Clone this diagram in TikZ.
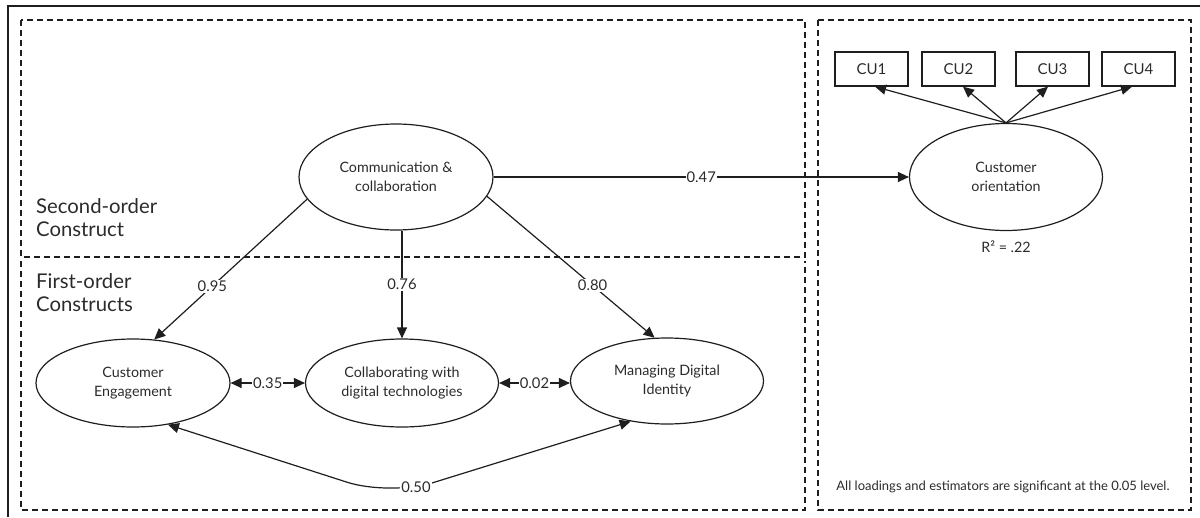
\documentclass[tikz,border=0pt]{standalone}
\usepackage{fontspec}
\setmainfont{Lato}
\usetikzlibrary{arrows.meta,shapes.geometric}
\definecolor{ln}{HTML}{1E1E1E}
\definecolor{tx}{HTML}{2B2B2B}
\begin{document}
\begin{tikzpicture}[x=1pt,y=-1pt,
  font=\fontsize{14.3}{18.5}\selectfont, text=tx,
  latent/.style={draw=ln, line width=1.2pt, ellipse, align=center, inner sep=0pt,
    minimum width=194pt},
  obs/.style={draw=ln, line width=1.3pt, rectangle, minimum width=73pt, minimum height=34pt, inner sep=0pt, font=\fontsize{15}{18}\selectfont},
  dbox/.style={draw=ln, line width=1.3pt, dash pattern=on 6pt off 4pt},
  path/.style={draw=ln, line width=1.2pt, -{Triangle[length=11pt,width=10pt]}},
  dpath/.style={draw=ln, line width=1.2pt, {Triangle[length=11pt,width=10pt]}-{Triangle[length=11pt,width=10pt]}},
  lab/.style={fill=white, inner sep=1pt, text=tx, font=\fontsize{14.8}{18}\selectfont},
  head/.style={align=left, anchor=west, font=\fontsize{20.3}{23}\selectfont, inner sep=0pt}
]
\useasboundingbox (0,0) rectangle (1200,517);
% outer frame
\draw[ln, line width=2pt] (8,517) -- (8,6) -- (1200,6);
% dashed regions
\draw[dbox] (21,20) rectangle (805,257);
\draw[dbox] (21,261) -- (21,510) -- (805,510) -- (805,261);
\draw[dbox] (818,20) rectangle (1191,510);
% headings
\node[head] (h2) at (36,218) {Second-order\\Construct};
\node[head] (h1) at (36,293) {First-order\\Constructs};
% latent variables
\node[latent, minimum height=106pt] (comm) at (396,177) {Communication \&\\collaboration};
\node[latent, minimum height=107pt, minimum width=193pt] (co) at (1006,177) {Customer\\orientation};
\node[latent, minimum height=88pt] (ce) at (133,383) {Customer\\Engagement};
\node[latent, minimum height=88pt, minimum width=193pt] (collab) at (402,383) {Collaborating with\\digital technologies};
\node[latent, minimum height=86pt, minimum width=193pt] (mdi) at (667,381) {Managing Digital\\Identity};
% indicators
\node[obs] (cu1) at (871.5,69) {CU1};
\node[obs] (cu2) at (958.5,69) {CU2};
\node[obs] (cu3) at (1052.5,69) {CU3};
\node[obs] (cu4) at (1138.5,69) {CU4};
% notes
\node[inner sep=0pt] (r2) at (1006,247) {R² = .22};
\node[inner sep=0pt, font=\fontsize{13}{14}\selectfont] (note) at (1003,487) {All loadings and estimators are significant at the 0.05 level.};
% loadings
\draw[path] (co.north) -- ([xshift=3.5pt]cu1.south);
\draw[path] (co.north) -- ([xshift=4.5pt]cu2.south);
\draw[path] (co.north) -- ([xshift=-4.5pt]cu3.south);
\draw[path] (co.north) -- ([xshift=-6.5pt]cu4.south);
% second-order paths
\draw[path] (comm.194.5) -- node[lab, pos=0.62] {0.95} (ce.64.5);
\draw[path] (comm.south -| collab.north) -- node[lab, pos=0.5] {0.76} (collab.north);
\draw[path] (comm.-12.5) -- node[lab, pos=0.63] {0.80} (mdi.106);
\draw[path] (comm.east) -- node[lab, pos=0.5] {0.47} (co.west);
% correlations
\draw[dpath] (ce.east) -- node[lab] {0.35} (collab.west);
\draw[dpath] (collab.east) -- node[lab] {0.02} (collab.east -| mdi.west);
\coordinate (bend) at (390,496);
\draw[dpath, rounded corners=45pt] (ce.-50.6) -- (bend) -- (mdi.228);
\node[lab] (c050) at (416,487) {0.50};
\end{tikzpicture}
\end{document}
